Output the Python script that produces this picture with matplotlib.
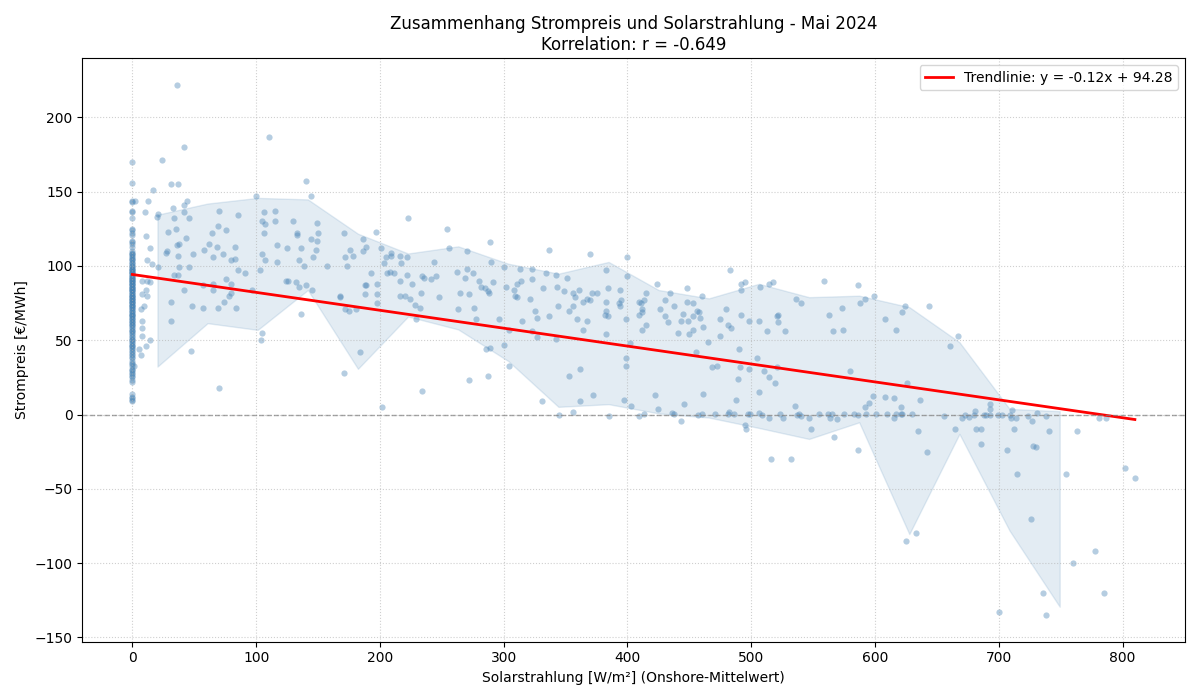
import matplotlib
matplotlib.use("Agg")
import matplotlib.pyplot as plt
import numpy as np

# Strompreis bei Solarstrahlung = 0 (Nachtstunden)
night_price = [170, 156, 144, 143, 137, 136, 132, 125, 124, 122, 121, 117, 116, 115, 113,
               110, 109, 108, 108, 107, 106, 105, 104, 103, 102, 101, 100, 100, 99, 98,
               97, 97, 96, 95, 95, 94, 93, 93, 92, 91, 91, 90, 90, 89, 88, 88, 87, 86, 86,
               85, 84, 84, 83, 82, 82, 81, 80, 80, 79, 78, 78, 77, 76, 76, 75, 74, 73, 73,
               72, 71, 70, 70, 69, 68, 67, 66, 66, 65, 64, 63, 62, 61, 60, 59, 58, 57, 56,
               55, 54, 53, 52, 51, 50, 49, 48, 47, 46, 45, 44, 43, 42, 41, 40, 39, 38, 36,
               35, 34, 33, 31, 30, 29, 28, 27, 26, 25, 23, 22, 14, 12, 11, 10, 9,
               105, 98, 92, 88, 85, 80, 76, 72, 68, 64, 60, 96, 90, 84, 78, 74, 62, 56, 50, 46]

# Tagstunden: Solarstrahlung [W/m²] und Strompreis [€/MWh]
day_solar = [2, 13, 17, 24, 42, 110, 31, 37, 10, 21, 20, 33, 42, 44, 42, 46, 34, 70, 85, 69,
             76, 64, 35, 29, 11, 43, 38, 36, 62, 68, 83, 28, 27, 37, 58, 49, 65, 73, 14, 80,
             83, 12, 16, 21, 38, 46, 85, 91, 34, 37, 76, 80, 57, 65, 65, 42, 80, 78, 74, 84,
             69, 57, 48, 31, 31, 8, 12, 14, 11, 8, 12, 9, 7, 8, 8, 8, 14, 11, 5, 7,
             47, 70, 105, 104, 100, 106, 115, 105, 107, 115, 130, 106, 140, 144, 149, 117, 125, 133, 133, 144,
             150, 149, 136, 148, 146, 135, 139, 117, 105, 107, 103, 124, 126, 132, 135, 140, 145, 136, 97, 1,
             36,
             157, 171, 172, 173, 176, 178, 186, 189, 186, 197, 201, 205, 209, 209, 203, 206, 208, 211, 193, 216,
             222, 217, 223, 222, 216, 226, 234, 236, 241, 245, 233, 244, 254, 256, 270, 262, 270, 269, 275, 280,
             282, 285, 287, 288, 291, 289, 290, 265, 272, 248, 263, 276, 278, 296, 286, 289, 287, 272, 234, 202,
             171, 184, 188, 189, 188, 198, 198, 198, 216, 220, 224, 228, 232, 229, 168, 168, 172, 175, 181,
             300, 304, 304, 300, 302, 308, 309, 311, 313, 311, 314, 321, 323, 323, 325, 327, 315, 323, 327, 337,
             334, 332, 342, 343, 349, 351, 337, 342, 344, 353, 356, 361, 358, 356, 359, 364, 367, 371, 375, 370,
             367, 364, 370, 383, 384, 383, 383, 382, 384, 394, 393, 395, 394, 383, 400, 400, 399, 399, 399, 402,
             353, 362, 331, 362, 356, 372, 345, 385, 397, 403, 409, 413, 422, 425, 436, 438, 443, 446, 409, 411,
             409, 412, 413, 415, 412, 415, 412, 424, 426, 430, 430, 433, 434, 438, 441, 443, 445, 448, 448, 449,
             450, 453, 453,
             455, 460, 456, 458, 453, 459, 461, 465, 461, 457, 460, 471, 468, 472, 475, 475, 480, 481, 484, 483,
             492, 495, 492, 492, 490, 491, 498, 489, 488, 498, 506, 505, 510, 514, 519, 506, 507, 514, 518, 513,
             521, 522, 522, 527, 521, 482, 481, 486, 497, 499, 506, 509, 514, 495, 496, 523, 526, 535, 537, 539,
             540, 547, 548, 555, 562, 564, 565, 569, 575, 583, 586, 593, 601, 592, 595, 598, 567, 586, 536, 540,
             559, 563, 566, 574, 573, 586, 588, 592, 599, 580, 516, 532,
             617, 661, 667, 626, 608, 615, 621, 636, 635, 642, 665, 682, 686, 686, 707, 712, 728, 730, 741, 610,
             615, 617, 621, 622, 630, 656, 670, 673, 676, 680, 681, 688, 690, 693, 693, 693, 699, 703, 709, 710,
             711, 714, 724, 727, 731, 738, 608, 622, 624, 644, 625, 633, 715, 726, 736, 738, 700, 754, 760, 763,
             778, 785, 781, 787, 802, 810]
day_price = [144, 144, 151, 171, 180, 187, 155, 155, 136, 135, 133, 139, 141, 144, 136, 132, 132, 137, 134, 127,
             124, 122, 125, 123, 120, 119, 115, 114, 115, 113, 113, 110, 109, 107, 111, 108, 106, 108, 112, 104,
             105, 104, 101, 99, 99, 99, 97, 95, 94, 94, 91, 88, 87, 88, 84, 84, 82, 80, 76, 72,
             72, 72, 73, 76, 63, 90, 90, 89, 84, 81, 80, 73, 71, 63, 58, 53, 50, 46, 44, 40,
             43, 18, 55, 50, 147, 136, 137, 130, 128, 130, 130, 122, 157, 147, 129, 114, 112, 122, 121, 118,
             122, 117, 112, 111, 106, 104, 100, 103, 108, 104, 97, 90, 90, 89, 86, 87, 84, 68, 84, 33,
             222,
             100, 122, 106, 100, 111, 107, 118, 113, 110, 123, 112, 106, 109, 107, 102, 95, 96, 95, 95, 107,
             106, 102, 132, 94, 90, 88, 93, 92, 91, 93, 82, 103, 125, 112, 110, 96, 98, 92, 95, 90,
             86, 85, 83, 82, 89, 116, 103, 82, 81, 79, 71, 72, 64, 64, 44, 45, 26, 23, 16, 5,
             28, 42, 87, 87, 81, 88, 81, 75, 80, 80, 78, 74, 72, 64, 80, 79, 71, 70, 71,
             47, 33, 57, 99, 86, 84, 80, 79, 98, 88, 90, 78, 98, 91, 70, 65, 63, 56, 52, 111,
             95, 85, 94, 86, 83, 92, 66, 51, 73, 70, 82, 84, 79, 73, 64, 76, 78, 82, 82, 77,
             63, 57, 108, 97, 85, 76, 70, 67, 66, 84, 75, 77, 73, 54, 106, 93, 64, 38, 33, 48,
             26, 31, 9, 9, 2, 13, 0, -1, 10, 6, -1, 0.5, 13, 4, 1, 0.4, -4, 7, 76, 75,
             67, 71, 77, 82, 69, 60, 57, 88, 71, 77, 66, 62, 82, 73, 55, 63, 68, 76, 85, 63,
             54, 75, 57,
             42, 80, 70, 69, 66, 65, 59, 49, 14, 0, 0.4, 0.2, 32, 33, 64, 53, 71, 60, 58, 97,
             88, 89, 84, 67, 44, 32, 31, 24, 10, 63, 63, 38, 29, 25, 21, 15, 86, 88, 89, 56,
             66, 67, 62, 56, 32, 2, 0.5, 0.5, 0.2, 0.2, 1, 0, -2, -7, -10, 0.2, -2, 6, -0.5, 0.2,
             -1, -2, -10, 0.2, 0.2, -2.5, 0.2, -2.7, 0.2, 0.2, -0.5, 0.2, 0.2, 5, 8, 12.5, -15, -24, 78, 75,
             90, 67, 56, 57, 72, 87, 75, 78, 80, 29, -30, -30,
             57, 46, 53, 21, 12, 11, 5, 10, -11, -25, -10, -10, -10, -20, -24, -10, -21, -22, -11, 0.5,
             -2, 0.5, 0.5, 0.5, 0.5, -0.7, -2.6, 0, -1.8, 0, 2.6, 0, -0.5, 0, 4, 7, -0.5, -0.5, 0, -2.5,
             3.4, -2.2, -1.1, -4, 1.1, -0.7, 64, 69, 73, 73, -85, -80, -40, -70, -120, -135, -133, -40, -100, -11,
             -92, -120, -2, -2, -36, -43]

# Streuband je Strahlungsklasse (21 Klassengrenzen von 0 bis Maximum)
band_upper = [134.5, 142, 145.8, 144.8, 121.7, 108.4, 113.2, 101.5, 94.8, 102.7,
              83.8, 78.2, 88, 79, 80, 72.3, 48.7, 3.8, 2.3]
band_lower = [32.3, 61.5, 57, 83.8, 30.8, 66, 57.3, 36, 5.2, 7,
              0.8, -2, -9, -16.4, -5.2, -80.4, -13, -78.1, -129.3]

slope = -0.1205
intercept = 94.28
corr_r = -0.649

solar = np.concatenate([np.zeros(len(night_price)), np.array(day_solar, dtype=float)])
price = np.concatenate([np.array(night_price, dtype=float), np.array(day_price, dtype=float)])

edges = np.linspace(0, solar.max(), 21)
centers = (edges[:-1] + edges[1:]) / 2
centers = centers[:len(band_upper)]

fig, ax = plt.subplots(figsize=(12, 7))
ax.fill_between(centers, band_lower, band_upper, color='steelblue', alpha=0.15)
ax.scatter(solar, price, s=20, color='steelblue', alpha=0.4, linewidths=0)

x_line = np.array([0, solar.max()])
ax.plot(x_line, slope * x_line + intercept, color='red', linewidth=2,
        label=f"Trendlinie: y = {slope:.2f}x + {intercept:.2f}")
ax.axhline(0, color='gray', linestyle='--', linewidth=1, alpha=0.7)

ax.set_xlabel("Solarstrahlung [W/m²] (Onshore-Mittelwert)")
ax.set_ylabel("Strompreis [€/MWh]")
ax.set_title(f"Zusammenhang Strompreis und Solarstrahlung - Mai 2024\nKorrelation: r = {corr_r:.3f}")
ax.grid(True, linestyle=':', alpha=0.6)
ax.legend(loc='upper right')

plt.tight_layout()
plt.savefig("out.png", dpi=100)
